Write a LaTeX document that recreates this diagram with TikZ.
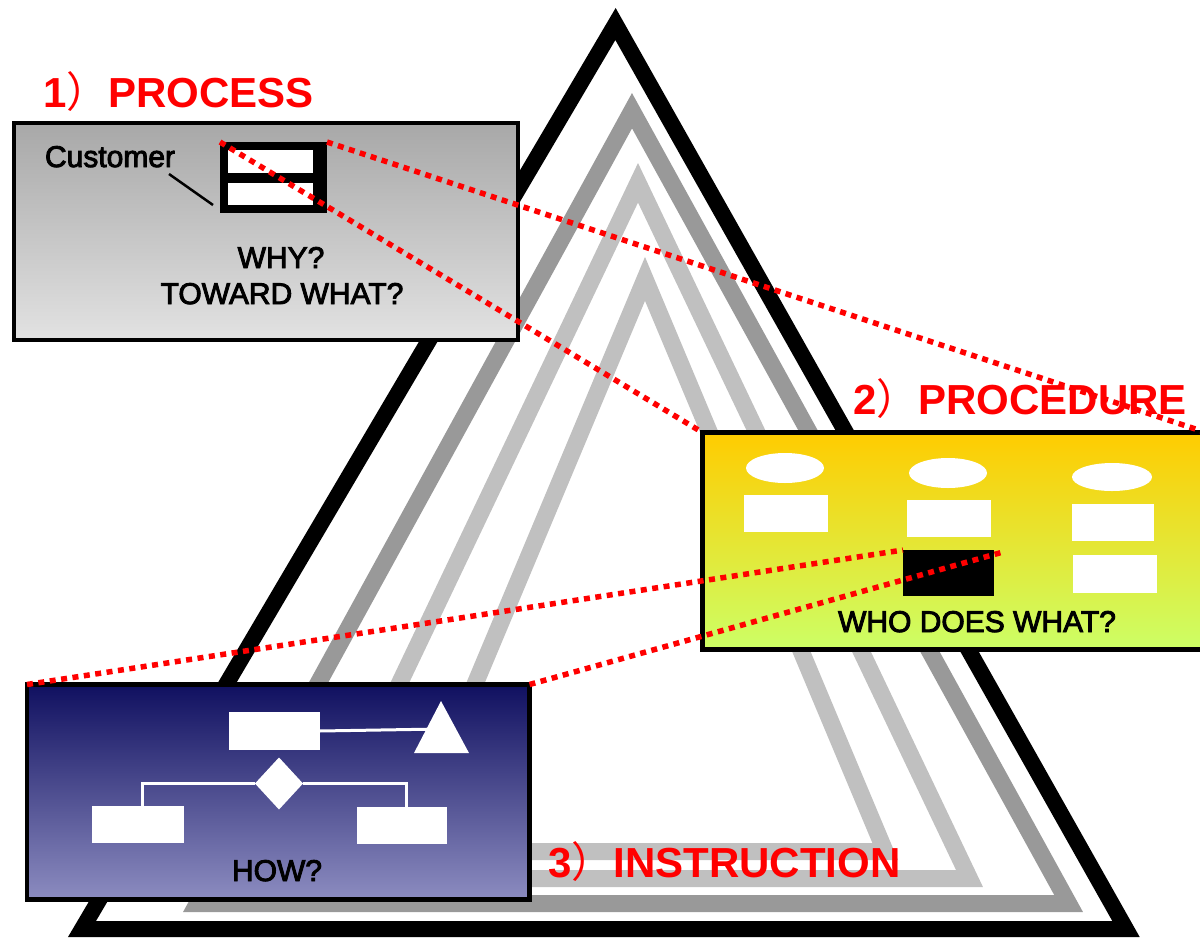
\documentclass[tikz,border=0pt]{standalone}
\usepackage{fontspec}
\setmainfont{Liberation Sans}
\newfontfamily\cjkfont{Noto Sans CJK SC}
\newfontfamily\medfont[FakeBold=3]{Liberation Sans}
\usetikzlibrary{shapes.geometric}
\definecolor{dgray}{RGB}{153,153,153}
\definecolor{lgray}{RGB}{192,192,192}
\definecolor{procTop}{RGB}{168,168,168}
\definecolor{procBot}{RGB}{226,226,226}
\definecolor{yelTop}{RGB}{255,204,0}
\definecolor{yelBot}{RGB}{204,255,102}
\definecolor{bluTop}{RGB}{16,16,96}
\definecolor{bluBot}{RGB}{140,140,192}
\definecolor{redT}{RGB}{255,0,0}
\tikzset{
  band/.style={line width=#1, line join=miter},
  panel/.style={draw=black, line width=4.5pt, rectangle, inner sep=0, outer sep=0},
  wbox/.style={fill=white, draw=none, rectangle, inner sep=0, outer sep=0},
  wellipse/.style={fill=white, draw=none, ellipse, inner sep=0, outer sep=0},
  title/.style={text=redT, inner sep=0, outer sep=0, anchor=base west, font=\fontsize{42}{42}\selectfont\bfseries},
  label/.style={text=black, inner sep=0, outer sep=0, anchor=base, font=\fontsize{30}{30}\selectfont\medfont},
  reddots/.style={draw=redT, line width=5.5pt, dash pattern=on 6pt off 5.5pt},
  wline/.style={draw=white, line width=3pt}
}
\begin{document}
\begin{tikzpicture}[x=1pt,y=-1pt]
\useasboundingbox (0,0) rectangle (1200,938);
\fill[white] (0,0) rectangle (1200,938);
% nested triangles
\draw[band=16pt, black] (615.5,24) -- (82,929) -- (1126,929) -- cycle;
\draw[band=17pt, dgray] (632,110.7) -- (197.4,903.5) -- (1068.6,903.5) -- cycle;
\draw[band=17pt, lgray] (638,182.8) -- (306.5,878.5) -- (969.5,878.5) -- cycle;
\draw[band=17pt, lgray] (645,278.9) -- (404.8,851.5) -- (885.2,851.5) -- cycle;

% 1) process panel
\node[panel, top color=procTop, bottom color=procBot, minimum width=504pt, minimum height=217pt, anchor=north west] (proc) at (14,123) {};
\node[fill=black, rectangle, inner sep=0, outer sep=0, minimum width=107pt, minimum height=71pt] (widget) at (273.5,177.5) {};
\node[wbox, minimum width=85pt, minimum height=23pt] (wtop) at (270.5,161.5) {};
\node[wbox, minimum width=85pt, minimum height=22pt] (wbot) at (270.5,194) {};
\node[label, anchor=base west] (cust) at (45,167) {Customer};
\coordinate (custA) at (169,174);
\coordinate (custB) at (213,205);
\draw[line width=2.5pt] (custA) -- (custB);
\node[label] (why) at (281,268) {WHY?};
\node[label] (toward) at (282,304) {TOWARD WHAT?};

% 2) procedure panel
\node[panel, top color=yelTop, bottom color=yelBot, minimum width=503.5pt, minimum height=217pt, anchor=north west] (proced) at (702.5,432.5) {};
\node[wellipse, minimum width=78pt, minimum height=30pt] (e1) at (785,468) {};
\node[wellipse, minimum width=78pt, minimum height=30pt] (e2) at (948,473) {};
\node[wellipse, minimum width=80pt, minimum height=28pt] (e3) at (1112,477) {};
\node[wbox, minimum width=84pt, minimum height=37pt] (r1) at (786,513.5) {};
\node[wbox, minimum width=84pt, minimum height=37pt] (r2) at (949,518.5) {};
\node[wbox, minimum width=82pt, minimum height=37pt] (r3) at (1113,522.5) {};
\node[wbox, minimum width=84pt, minimum height=38pt] (r4) at (1115,574) {};
\node[fill=black, rectangle, inner sep=0, outer sep=0, minimum width=91pt, minimum height=46pt] (blk) at (948.5,573) {};
\coordinate (blkE) at (1003,552);
\node[label] (who) at (977,632) {WHO DOES WHAT?};

% 3) instruction panel
\node[panel, top color=bluTop, bottom color=bluBot, minimum width=502.5pt, minimum height=215pt, anchor=north west] (instr) at (27,684.5) {};
\node[wbox, minimum width=91pt, minimum height=38pt] (tr) at (274,731) {};
\coordinate (tri) at (441,729);
\draw[wline] (tr.east) -- (tri);
\fill[white] (441,701) -- (414,753) -- (469,753) -- cycle;
\node[fill=white, diamond, inner sep=0, outer sep=0, minimum width=48pt, minimum height=52pt] (dia) at (279,783.5) {};
\node[wbox, minimum width=91.5pt, minimum height=37pt] (lr) at (137.75,824.5) {};
\node[wbox, minimum width=90.3pt, minimum height=37pt] (rr) at (401.85,825.5) {};
\draw[wline] (dia.west) -| ([xshift=5pt]lr.north);
\draw[wline] (dia.east) -| ([xshift=5pt]rr.north);
\node[label] (how) at (277,881) {HOW?};

% titles
\node[title] (t1) at (43,107) {1{\mdseries\cjkfont ）}PROCESS};
\node[title] (t2) at (853,414) {2{\mdseries\cjkfont ）}PROCEDURE};
\node[title] (t3) at (548,877) {3{\mdseries\cjkfont ）}INSTRUCTION};

% red dotted connectors
\draw[reddots] (widget.north west) -- (proced.north west);
\draw[reddots] (widget.north east) -- (proced.north east);
\draw[reddots] (instr.north west) -- (blk.north west);
\draw[reddots] (instr.north east) -- (blkE);
\end{tikzpicture}
\end{document}
